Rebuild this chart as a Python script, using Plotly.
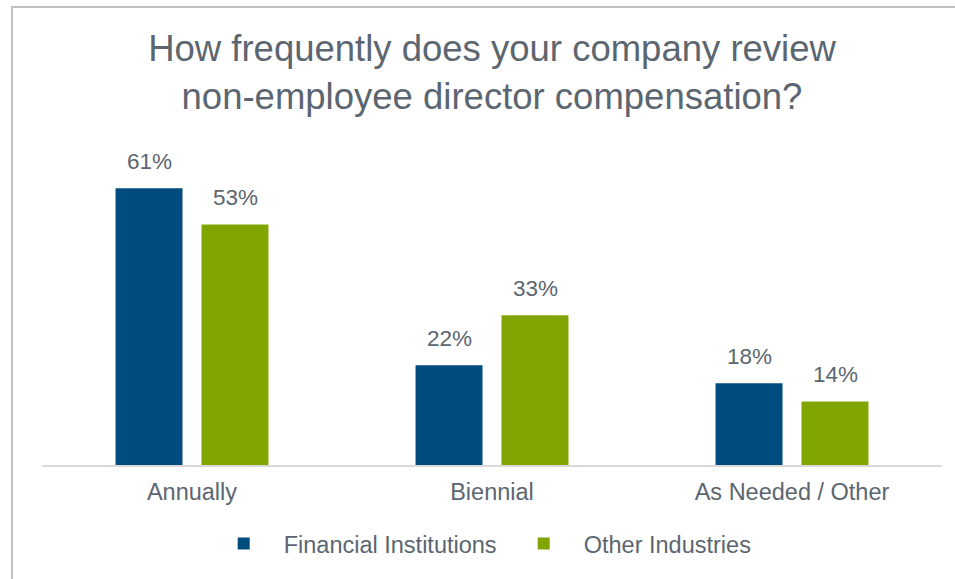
import plotly.graph_objects as go

categories = ["Annually", "Biennial", "As Needed / Other"]
financial = [61, 22, 18]
other = [53, 33, 14]
series_names = ["Financial Institutions", "Other Industries"]
colors = ["#004c7e", "#80a500"]

TEXT = "#5b6670"
FONT = "Liberation Sans, Arial, sans-serif"

fig = go.Figure()
for name, vals, col in zip(series_names, [financial, other], colors):
    fig.add_trace(go.Bar(
        x=categories, y=vals, name=name,
        marker=dict(color=col, line=dict(width=0)),
        hoverinfo="skip",
    ))

# value labels above each bar, offset to the bar's position in its group
annotations = []
for shift, vals in zip([-43, 43], [financial, other]):
    for c, v in zip(categories, vals):
        annotations.append(dict(
            x=c, y=v, xref="x", yref="y", text=f"{v}%", showarrow=False,
            xshift=shift, yanchor="bottom", yshift=12,
            font=dict(family=FONT, size=22.5, color=TEXT),
        ))

fig.update_layout(
    width=955, height=579,
    margin=dict(l=42, r=13, t=150, b=114),
    paper_bgcolor="white", plot_bgcolor="white",
    barmode="group", bargap=0.427, bargroupgap=0.221,
    title=dict(
        text="How frequently does your company review<br>non-employee director compensation?",
        x=0.5, xref="paper", xanchor="center", y=0.894, yref="container", yanchor="top",
        font=dict(family=FONT, size=36.5, color=TEXT),
    ),
    xaxis=dict(
        showline=True, linecolor="#d9d9d9", linewidth=2,
        ticks="", showgrid=False, zeroline=False,
        tickfont=dict(family=FONT, size=23.5, color=TEXT),
        ticklabelstandoff=5,
    ),
    yaxis=dict(range=[0, 69.4], visible=False, showgrid=False, zeroline=False),
    legend=dict(
        orientation="h", x=0.513, xanchor="center", y=-0.18, yanchor="top",
        font=dict(family=FONT, size=23.5, color=TEXT),
        itemwidth=70,
        entrywidth=215, entrywidthmode="pixels",
    ),
    annotations=annotations,
    shapes=[dict(
        type="rect", xref="paper", yref="paper",
        x0=-0.0333, x1=1.3, y0=-0.6, y1=1.454,
        line=dict(color="#c0c0c0", width=2), fillcolor="rgba(0,0,0,0)",
        layer="below",
    )],
)

fig.write_html("out.html")
